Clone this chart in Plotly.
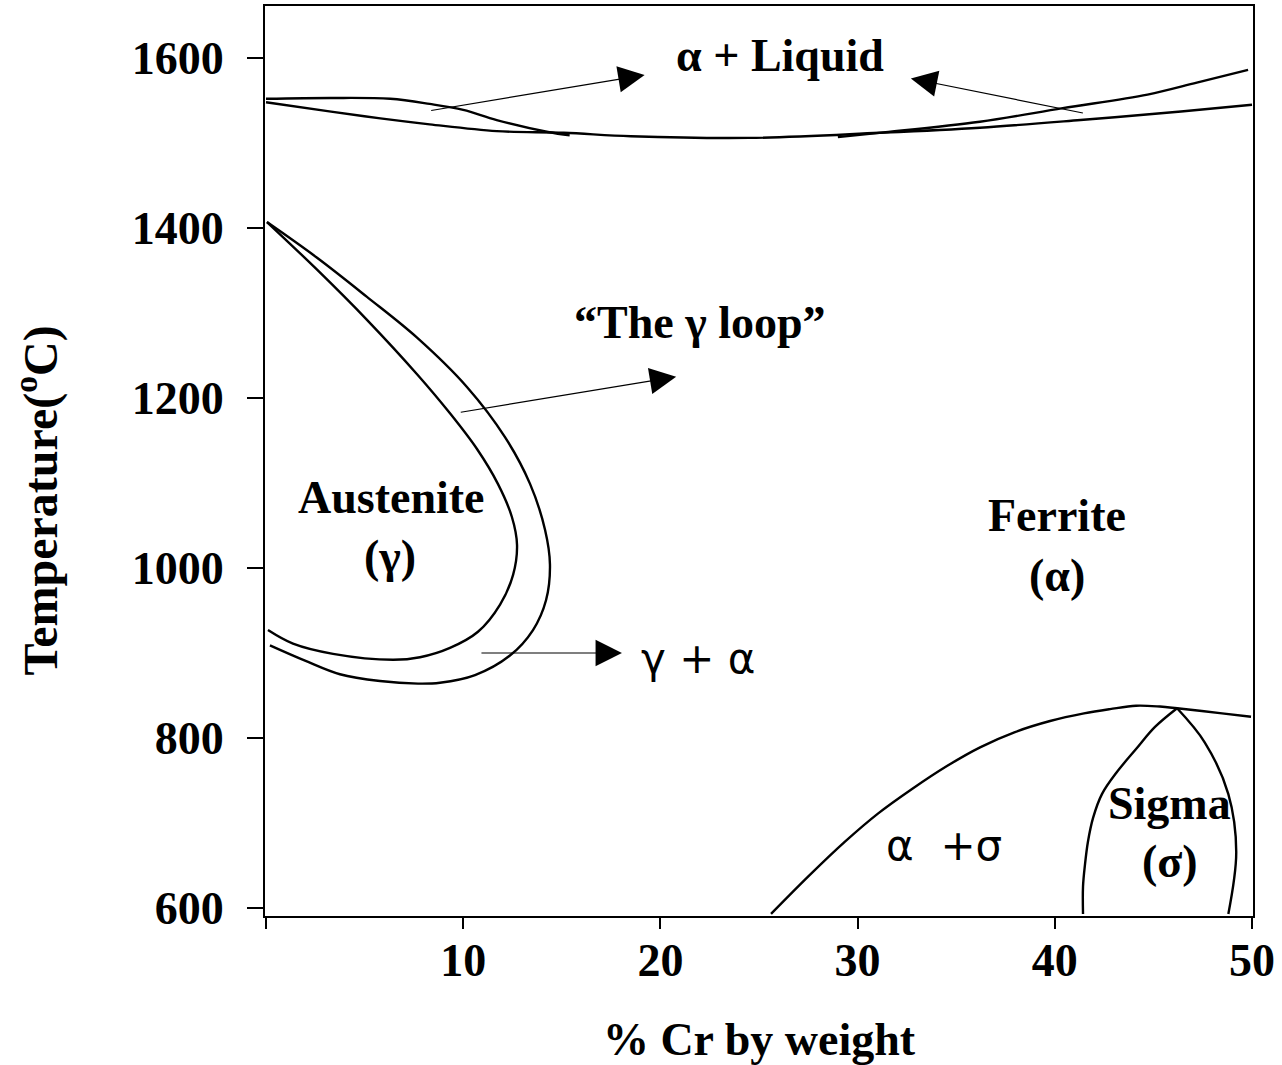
import plotly.graph_objects as go

# Fe-Cr equilibrium phase diagram: composition (% Cr by weight) vs temperature (deg C)

# Liquidus, Fe-rich side
liq_left_cr = [0.0, 3.3, 6.3, 8.3, 10.0, 11.7, 14.3, 15.4]
liq_left_t = [1552, 1553, 1552, 1546, 1539, 1527, 1513, 1509]

# Liquidus, Cr-rich side
liq_right_cr = [29.0, 31.1, 36.2, 40.4, 44.7, 47.2, 49.8]
liq_right_t = [1507, 1512, 1525, 1541, 1557, 1571, 1586]

# Solidus across the whole range
sol_cr = [0.0, 3.3, 5.8, 8.3, 11.7, 15.1, 18.5, 24.5, 31.1, 36.2, 41.3, 46.4, 50.0]
sol_t = [1548, 1537, 1529, 1522, 1514, 1512, 1508, 1506, 1512, 1518, 1527, 1537, 1545]

# Gamma loop: inner boundary (gamma / gamma+alpha)
gam_in_cr = [0.05, 2.59, 5.12, 7.66, 9.33, 10.70, 11.76, 12.47, 12.73, 12.53,
             11.87, 10.75, 9.33, 7.81, 6.44, 3.40, 1.37, 0.10]
gam_in_t = [1407, 1351, 1292, 1228, 1182, 1140, 1099, 1060, 1027, 992,
            957, 925, 906, 895, 892, 899, 911, 927]

# Gamma loop: outer boundary (gamma+alpha / alpha)
gam_out_cr = [0.05, 2.59, 5.12, 7.66, 10.19, 12.12, 13.39, 14.15, 14.40, 14.20,
              13.54, 12.37, 10.60, 8.82, 7.71, 5.78, 3.75, 1.98, 0.20]
gam_out_t = [1407, 1365, 1319, 1271, 1213, 1154, 1099, 1045, 1004, 962,
             927, 897, 874, 865, 864, 867, 875, 891, 909]

# Alpha / alpha+sigma solvus
sig_solvus_cr = [25.61, 27.54, 29.36, 31.03, 32.76, 34.53, 36.21, 37.98, 39.76,
                 41.48, 42.80, 44.12, 45.33, 46.20, 48.48, 49.95]
sig_solvus_t = [593, 638, 678, 711, 740, 767, 789, 807, 820,
                829, 834, 838, 837, 835, 829, 825]

# Sigma phase field, left and right boundaries
sig_left_cr = [46.20, 45.08, 44.12, 43.15, 42.39, 41.94, 41.68, 41.53, 41.43, 41.43]
sig_left_t = [835, 813, 787, 760, 734, 706, 678, 651, 625, 593]
sig_right_cr = [46.2, 47.6, 48.8, 49.2, 48.8]
sig_right_t = [835, 795, 734, 666, 593]

# Axis ticks
x_ticks = [0, 10, 20, 30, 40, 50]
x_tick_text = ["", "10", "20", "30", "40", "50"]
y_ticks = [600, 800, 1000, 1200, 1400, 1600]

SERIF = "Liberation Serif"
SYM = "DejaVu Sans"

fig = go.Figure()

line_style = dict(color="black", width=2.4, shape="spline", smoothing=1.0)
for xs, ys in [
    (liq_left_cr, liq_left_t),
    (liq_right_cr, liq_right_t),
    (sol_cr, sol_t),
    (gam_in_cr, gam_in_t),
    (gam_out_cr, gam_out_t),
    (sig_solvus_cr, sig_solvus_t),
    (sig_left_cr, sig_left_t),
    (sig_right_cr, sig_right_t),
]:
    fig.add_trace(go.Scatter(x=xs, y=ys, mode="lines", line=line_style,
                             hoverinfo="skip", showlegend=False))

# Region labels: (text, cr, temp, font family, size, bold)
labels = [
    ("α + Liquid", 26.06, 1603, SERIF, 46, True),
    ("“The γ loop”", 22.0, 1289, SERIF, 46, True),
    ("Austenite", 6.34, 1083, SERIF, 46, True),
    ("(γ)", 6.29, 1014, SERIF, 46, True),
    ("Ferrite", 40.1, 1062, SERIF, 46, True),
    ("(α)", 40.1, 991, SERIF, 46, True),
    ("γ + α", 21.9, 894, SYM, 42, False),
    ("Sigma", 45.8, 723, SERIF, 46, True),
    ("(σ)", 45.85, 655, SERIF, 46, True),
    ("α  +σ", 34.4, 673, SYM, 42, False),
]
for text, cx, ty, fam, size, bold in labels:
    fig.add_annotation(x=cx, y=ty, xref="x", yref="y", text=text, showarrow=False,
                       xanchor="center", yanchor="middle",
                       font=dict(family=fam, size=size, color="black",
                                 weight="bold" if bold else "normal"))

# Pointer arrows: (tail cr, tail temp, head cr, head temp)
arrows = [
    (8.3, 1538, 19.2, 1580),
    (41.5, 1535, 32.7, 1576),
    (9.8, 1183, 20.8, 1225),
    (10.85, 900, 18.05, 900),
]
for x0, y0, x1, y1 in arrows:
    fig.add_annotation(x=x1, y=y1, ax=x0, ay=y0, xref="x", yref="y",
                       axref="x", ayref="y", text="", showarrow=True,
                       arrowhead=2, arrowsize=4.4, arrowwidth=1.2,
                       arrowcolor="black", standoff=0, startstandoff=0)

# Vertical axis title, placed left of the tick labels
fig.add_annotation(x=-0.2305, y=0.457, xref="paper", yref="paper",
                   text="Temperature(<sup>o</sup>C)", showarrow=False,
                   textangle=-90, xanchor="center", yanchor="middle",
                   font=dict(family=SERIF, size=48, color="black", weight="bold"))

axis_common = dict(
    showline=True, linecolor="black", linewidth=2, mirror=True,
    showgrid=False, zeroline=False, ticks="outside", tickcolor="black",
    tickwidth=2,
    tickfont=dict(family=SERIF, size=46, color="black", weight="bold"),
)

fig.update_xaxes(
    range=[-0.05, 50.05], tickmode="array", tickvals=x_ticks, ticktext=x_tick_text,
    ticklen=11, ticklabelstandoff=-8,
    title=dict(text="% Cr by weight", standoff=38,
               font=dict(family=SERIF, size=46, color="black", weight="bold")),
    **axis_common,
)
fig.update_yaxes(
    range=[590.6, 1661.2], tickmode="array", tickvals=y_ticks,
    ticklen=16, ticklabelstandoff=14,
    **axis_common,
)

fig.update_layout(
    width=1282, height=1065,
    margin=dict(l=265, r=29, t=6, b=149, autoexpand=False),
    paper_bgcolor="white", plot_bgcolor="white",
    showlegend=False,
)

fig.write_html("out.html")
